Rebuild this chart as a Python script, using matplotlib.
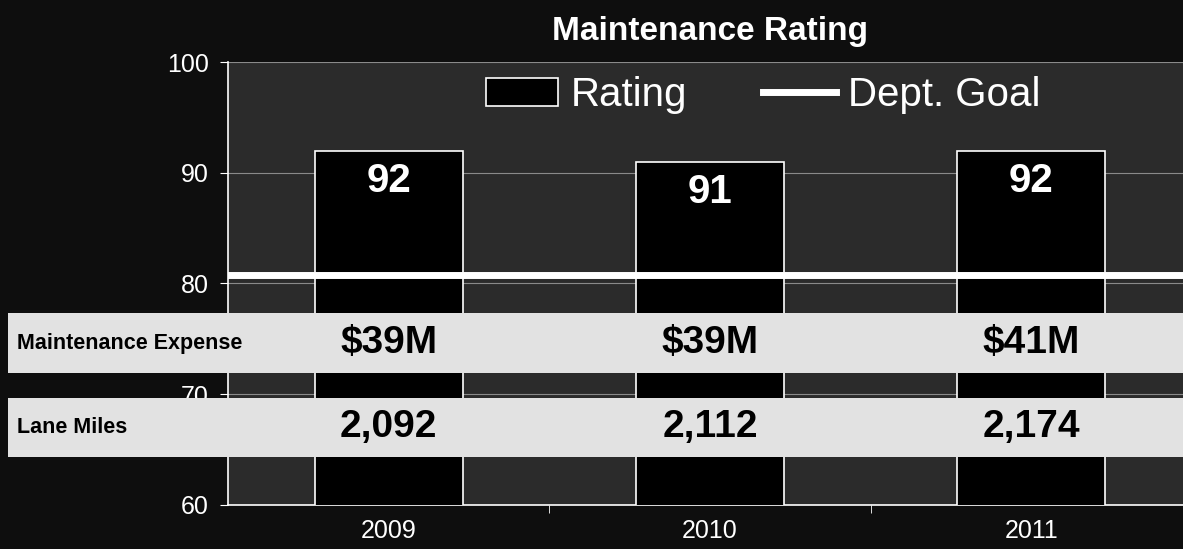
import matplotlib
matplotlib.use("Agg")
import matplotlib.pyplot as plt
from matplotlib.patches import Rectangle, Patch
from matplotlib.lines import Line2D
from matplotlib.transforms import blended_transform_factory
from matplotlib import font_manager

years = ["2009", "2010", "2011"]
rating = [92, 91, 92]
dept_goal = 80.8
expense_labels = ["$39M", "$39M", "$41M"]
lane_miles_labels = ["2,092", "2,112", "2,174"]
row_names = ["Maintenance Expense", "Lane Miles"]

names = {f.name for f in font_manager.fontManager.ttflist}
NARROW = "Liberation Sans Narrow" if "Liberation Sans Narrow" in names else "Liberation Sans"
REG = "Liberation Sans"

FIG_BG = "#0e0e0e"
AX_BG = "#2b2b2b"
BAND = "#e2e2e2"

fig = plt.figure(figsize=(11.83, 5.49), dpi=100, facecolor=FIG_BG)
ax = fig.add_axes([228 / 1183, 44 / 549, (1192 - 228) / 1183, 443 / 549])
ax.set_facecolor(AX_BG)

x = list(range(len(years)))
ax.bar(x, rating, width=0.46, color="black", edgecolor="white", lw=1.2, zorder=3)
ax.axhline(dept_goal, color="white", lw=5, zorder=4)

ax.set_ylim(60, 100)
ax.set_xlim(-0.5, len(years) - 0.5)
ax.set_yticks([60, 70, 80, 90, 100])
ax.set_xticks(x)
ax.set_xticklabels(years)
ax.set_xticks([0.5, 1.5], minor=True)
ax.tick_params(axis="x", which="major", length=0, pad=10)
ax.tick_params(axis="x", which="minor", length=6, color="white", direction="out")
ax.tick_params(axis="y", length=6, color="white", direction="out", pad=8)
for lab in ax.get_xticklabels() + ax.get_yticklabels():
    lab.set_fontfamily(REG)
    lab.set_fontsize(18)
    lab.set_color("white")
ax.grid(axis="y", color="#8a8a8a", lw=0.8, zorder=1)
ax.set_axisbelow(True)
for s in ["top", "right"]:
    ax.spines[s].set_visible(False)
for s in ["left", "bottom"]:
    ax.spines[s].set_color("white")
    ax.spines[s].set_linewidth(1.2)

# value labels inside the bars, a little below the top
for xi, v in zip(x, rating):
    ax.text(xi, v - 2.7, str(v), ha="center", va="center", color="white",
            fontsize=29, fontweight="bold", family=NARROW, zorder=5)

ax.set_title("Maintenance Rating", color="white", fontsize=24,
             fontweight="bold", family=REG, pad=16)

handles = [Patch(facecolor="black", edgecolor="white", lw=1.2),
           Line2D([0], [0], color="white", lw=5)]
leg = ax.legend(handles, ["Rating", "Dept. Goal"], loc="center",
                bbox_to_anchor=(0.555, 0.925), ncol=2, frameon=False,
                prop={"family": REG, "size": 29}, handlelength=1.8,
                handletextpad=0.3, columnspacing=1.9, labelcolor="white")

# data rows drawn as light bands across the figure
trans = blended_transform_factory(fig.transFigure, ax.transData)
bands = [(71.9, 77.35), (64.35, 69.7)]
rows = [expense_labels, lane_miles_labels]
for (lo, hi), name, vals in zip(bands, row_names, rows):
    ax.add_patch(Rectangle((8 / 1183, lo), 1.0, hi - lo, transform=trans,
                           facecolor=BAND, edgecolor="none", clip_on=False,
                           zorder=6))
    mid = (lo + hi) / 2
    ax.text(17 / 1183, mid, name, transform=trans, ha="left", va="center",
            fontsize=15.5, fontweight="bold", family=NARROW, color="black",
            zorder=7)
    for xi, v in zip(x, vals):
        ax.text(xi, mid, v, ha="center", va="center", fontsize=28,
                fontweight="bold", family=NARROW, color="black", zorder=7,
                clip_on=False)

fig.savefig("out.png", facecolor=FIG_BG)
